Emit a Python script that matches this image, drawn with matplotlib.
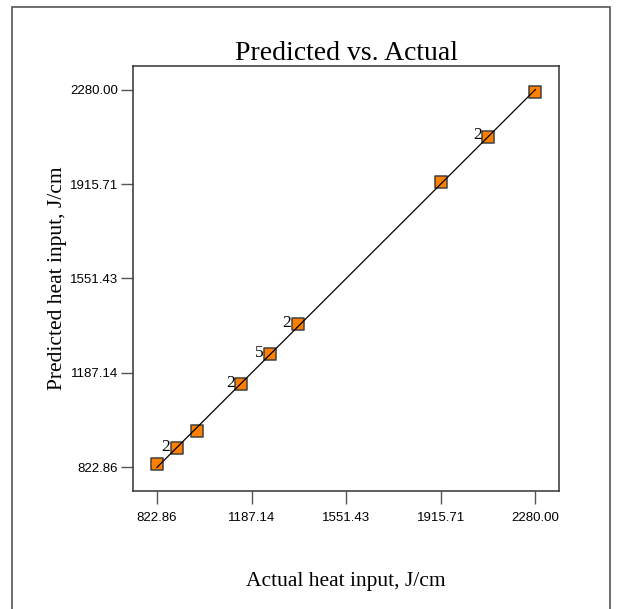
import matplotlib.pyplot as plt
from matplotlib.patches import Rectangle

# actual vs predicted heat input (J/cm)
actual = [822.86, 898.6, 975.9, 1147.5, 1256.9, 1364.0, 1917.8, 2098.3, 2280.0]
predicted = [834.5, 897.8, 962.0, 1142.5, 1258.4, 1374.4, 1924.4, 2098.3, 2270.0]
repeat_labels = ["", "2", "", "2", "5", "2", "", "2", ""]

tick_values = [822.86, 1187.14, 1551.43, 1915.71, 2280.00]
tick_labels = ["822.86", "1187.14", "1551.43", "1915.71", "2280.00"]
axis_min, axis_max = 731.8, 2371.0

serif = ["Liberation Serif", "DejaVu Serif"]
sans = ["Liberation Sans", "DejaVu Sans"]

fig = plt.figure(figsize=(6.19, 6.09), dpi=100)
ax = fig.add_axes([0.2154, 0.1938, 0.6877, 0.6979])

# outer frame of the exported graph
fig.patches.append(Rectangle((12 / 619, -0.05), 598 / 619, 1.05 - 7 / 609,
                             transform=fig.transFigure, fill=False,
                             edgecolor="#555555", linewidth=1.2))

ax.plot([tick_values[0], tick_values[-1]], [tick_values[0], tick_values[-1]],
        color="black", linewidth=0.9, zorder=3)
ax.scatter(actual, predicted, marker="s", s=75, facecolor="#FF8000",
           edgecolor="#404040", linewidth=1.1, zorder=2)

for x, y, lab in zip(actual, predicted, repeat_labels):
    if lab:
        ax.annotate(lab, (x, y), xytext=(-4.5, 1), textcoords="offset points",
                    ha="right", va="center", fontsize=12.5, family=serif)

ax.set_xlim(axis_min, axis_max)
ax.set_ylim(axis_min, axis_max)
ax.set_xticks(tick_values)
ax.set_yticks(tick_values)
ax.set_xticklabels(tick_labels, family=sans, fontsize=9.5)
ax.set_yticklabels(tick_labels, family=sans, fontsize=9.5)
ax.tick_params(axis="x", length=9, width=1, color="#555555", pad=6)
ax.tick_params(axis="y", length=9, width=1, color="#555555", pad=2)
for sp in ax.spines.values():
    sp.set_color("#333333")
    sp.set_linewidth(1.1)

ax.set_title("Predicted vs. Actual", family=serif, fontsize=20, pad=4)
ax.set_xlabel("Actual heat input, J/cm", family=serif, fontsize=15.5, labelpad=35)
ax.set_ylabel("Predicted heat input, J/cm", family=serif, fontsize=15.5, labelpad=2)

fig.savefig("out.png", dpi=100)
